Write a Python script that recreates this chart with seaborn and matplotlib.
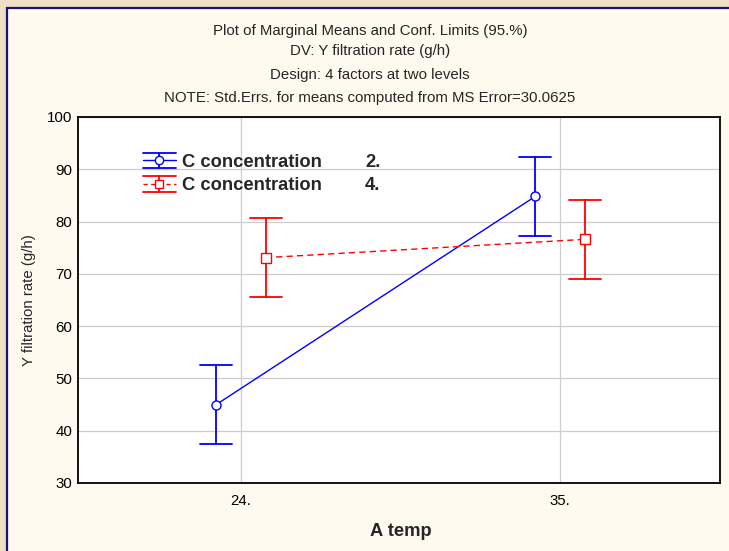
import matplotlib
matplotlib.use("Agg")
import matplotlib.pyplot as plt
import numpy as np
import pandas as pd
import seaborn as sns
from matplotlib.font_manager import FontProperties
from matplotlib.legend_handler import HandlerBase
from matplotlib.lines import Line2D
from matplotlib.patches import Rectangle

# ---- data -------------------------------------------------------------
temp_levels = ["24.", "35."]                 # factor A: temperature
conc_levels = ["2.", "4."]                   # factor C: concentration
means_conc2 = [45.0, 84.8]                   # marginal means, C = 2.
means_conc4 = [73.1, 76.6]                   # marginal means, C = 4.
ci_half_width = 7.6                          # 95% confidence half-width
series_colors = ["#0000ff", "#ff0000"]
y_ticks = [30, 40, 50, 60, 70, 80, 90, 100]

title_lines = [
    "Plot of Marginal Means and Conf. Limits (95.%)",
    "DV: Y filtration rate (g/h)",
    "Design: 4 factors at two levels",
    "NOTE: Std.Errs. for means computed from MS Error=30.0625",
]
y_label = "Y filtration rate (g/h)"
x_label = "A temp"
legend_label = "C concentration"

# Long table: each cell holds its lower limit, mean and upper limit, so the
# median gives the mean and the min/max span gives the confidence interval.
rows = []
for conc, means in zip(conc_levels, [means_conc2, means_conc4]):
    for temp, m in zip(temp_levels, means):
        for v in (m - ci_half_width, m, m + ci_half_width):
            rows.append({"temp": temp, "conc": conc, "rate": v})
df = pd.DataFrame(rows)

# ---- style ------------------------------------------------------------
sns.set_style("white")
plt.rcParams["font.family"] = ["Liberation Sans", "DejaVu Sans"]

W, H = 729, 551
fig = plt.figure(figsize=(W / 100, H / 100), dpi=100)
fig.patch.set_facecolor("#eee0c4")

# cream panel with a navy frame along its top and left edges
panel = Rectangle((6.5 / W, -0.05), 1.2, 1 - 7.5 / H + 0.05,
                  transform=fig.transFigure, facecolor="#fffaef",
                  edgecolor="#14147a", linewidth=1.6, zorder=-5)
fig.patches.append(panel)

ax = fig.add_axes([78 / W, 1 - 483 / H, (720 - 78) / W, (483 - 117) / H])
ax.set_facecolor("white")

sns.pointplot(
    data=df, x="temp", y="rate", hue="conc",
    order=temp_levels, hue_order=conc_levels, palette=series_colors,
    estimator="median", errorbar=lambda v: (v.min(), v.max()),
    dodge=0.155, markers=["o", "s"], linestyles=["-", (0, (4.5, 3))],
    capsize=0.1, err_kws={"linewidth": 1.3, "zorder": 1.8},
    linewidth=1.0, markersize=6.5, markerfacecolor="white",
    markeredgewidth=1.0, legend=False, ax=ax,
)

ax.set_xlim(-0.511, 1.502)
ax.set_ylim(30, 100)
ax.set_yticks(y_ticks)
ax.set_yticklabels([str(t) for t in y_ticks])
ax.grid(True, color="#cdcdcd", linewidth=0.9)
ax.set_axisbelow(True)
for s in ax.spines.values():
    s.set_color("black")
    s.set_linewidth(1.3)
ax.tick_params(axis="y", direction="out", length=3.5, width=0.8, color="#888888",
               pad=0.5, labelsize=10.8, labelcolor="black")
ax.tick_params(axis="x", direction="out", length=3, width=0.8, color="#888888",
               pad=5, labelsize=10.8, labelcolor="black")

ax.set_ylabel(y_label, fontsize=10.8)
ax.yaxis.set_label_coords(-0.066, 0.5)
ax.set_xlabel(x_label, fontsize=13.2, fontweight="bold")
ax.xaxis.set_label_coords(0.503, -0.108)

for i, line in enumerate(title_lines):
    yc = [30.5, 50.5, 74.5, 98][i]
    fig.text(370 / W, 1 - yc / H, line, ha="center", va="center", fontsize=10.8)


# ---- legend -------------------------------------------------------------
class CapHandler(HandlerBase):
    """Legend key drawn as a capped error bar with the series line and marker."""

    def __init__(self, color, linestyle, marker):
        super().__init__()
        self.color = color
        self.linestyle = linestyle
        self.marker = marker

    def create_artists(self, legend, orig_handle, xdescent, ydescent,
                       width, height, fontsize, trans):
        x0, x1 = -xdescent, -xdescent + width
        ylo, yhi = -ydescent, -ydescent + height
        yc = (ylo + yhi) / 2
        xm = (x0 + x1) / 2
        c = self.color
        arts = [
            Line2D([x0, x1], [yhi, yhi], color=c, lw=1.3),
            Line2D([x0, x1], [ylo, ylo], color=c, lw=1.3),
            Line2D([xm, xm], [ylo, yhi], color=c, lw=1.3),
            Line2D([x0, x1], [yc, yc], color=c, lw=1.0, linestyle=self.linestyle),
            Line2D([xm], [yc], marker=self.marker, markersize=6, mfc="white",
                   mec=c, mew=1.0, linestyle="none"),
        ]
        for a in arts:
            a.set_transform(trans)
        return arts


keys = [Line2D([], [], color=c) for c in series_colors]
blanks = [Line2D([], [], linestyle="none") for _ in conc_levels]
handler_map = {
    keys[0]: CapHandler(series_colors[0], "-", "o"),
    keys[1]: CapHandler(series_colors[1], (0, (3, 2.5)), "s"),
}
ax.legend(
    keys + blanks, [legend_label] * len(conc_levels) + conc_levels,
    ncol=2, loc="upper left", bbox_to_anchor=(0.101, 0.902),
    frameon=False, borderpad=0, borderaxespad=0,
    handlelength=1.8, handleheight=0.9, handletextpad=0.35,
    columnspacing=0.2, labelspacing=0.3,
    prop=FontProperties(family="Liberation Sans", weight="bold", size=13.2),
    handler_map=handler_map,
)

fig.savefig("out.png", dpi=100, facecolor=fig.get_facecolor())
